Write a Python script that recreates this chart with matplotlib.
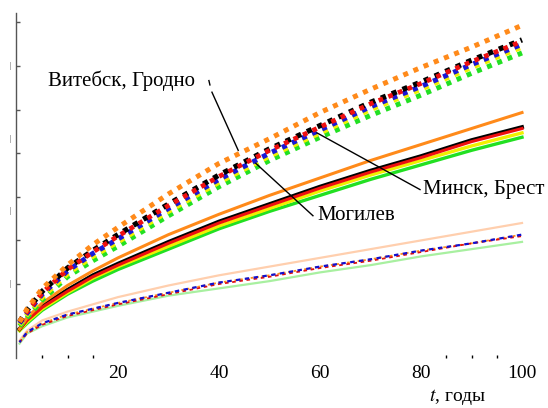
import matplotlib
matplotlib.use("Agg")
import matplotlib.pyplot as plt
from matplotlib.ticker import FixedLocator, NullFormatter

plt.rcParams['font.family'] = ['Liberation Serif', 'DejaVu Serif']
plt.rcParams['mathtext.fontset'] = 'stix'

# time, years
t = [0.5, 2, 5, 10, 15, 20, 30, 40, 50, 60, 70, 80, 90, 100]

# upper (dotted) group
dot_orange = [0.74, 0.83, 0.97, 1.13, 1.27, 1.39, 1.62, 1.83, 2.00, 2.18, 2.34, 2.49, 2.63, 2.78]
dot_red    = [0.74, 0.81, 0.94, 1.10, 1.22, 1.33, 1.54, 1.74, 1.92, 2.08, 2.24, 2.38, 2.53, 2.67]
dot_black  = [0.74, 0.82, 0.95, 1.11, 1.23, 1.34, 1.55, 1.75, 1.93, 2.09, 2.25, 2.39, 2.54, 2.68]
dot_blue   = [0.73, 0.80, 0.93, 1.09, 1.21, 1.31, 1.52, 1.72, 1.90, 2.06, 2.22, 2.36, 2.51, 2.65]
dot_yellow = [0.72, 0.79, 0.91, 1.07, 1.19, 1.29, 1.50, 1.70, 1.88, 2.04, 2.20, 2.34, 2.49, 2.63]
dot_green  = [0.71, 0.77, 0.89, 1.05, 1.16, 1.26, 1.47, 1.67, 1.85, 2.01, 2.16, 2.30, 2.45, 2.59]

# middle (solid) group
sol_orange = [0.69, 0.77, 0.87, 0.99, 1.09, 1.18, 1.34, 1.48, 1.61, 1.73, 1.85, 1.96, 2.07, 2.18]
sol_black  = [0.69, 0.76, 0.85, 0.96, 1.06, 1.14, 1.29, 1.43, 1.55, 1.67, 1.78, 1.88, 1.99, 2.08]
sol_red    = [0.69, 0.75, 0.84, 0.95, 1.05, 1.13, 1.28, 1.42, 1.54, 1.66, 1.77, 1.87, 1.98, 2.07]
sol_yellow = [0.68, 0.74, 0.83, 0.94, 1.04, 1.12, 1.26, 1.40, 1.52, 1.64, 1.75, 1.85, 1.95, 2.04]
sol_green  = [0.68, 0.73, 0.82, 0.93, 1.02, 1.10, 1.24, 1.38, 1.50, 1.61, 1.72, 1.82, 1.92, 2.01]

# lower (thin) group
low_peach = [0.61, 0.68, 0.75, 0.81, 0.86, 0.91, 0.99, 1.06, 1.12, 1.18, 1.24, 1.30, 1.36, 1.42]
low_blue  = [0.60, 0.67, 0.73, 0.79, 0.83, 0.87, 0.94, 1.01, 1.06, 1.12, 1.17, 1.23, 1.28, 1.34]
low_red   = [0.60, 0.66, 0.72, 0.78, 0.82, 0.86, 0.93, 1.00, 1.05, 1.11, 1.16, 1.22, 1.28, 1.33]
low_green = [0.59, 0.66, 0.71, 0.77, 0.81, 0.85, 0.92, 0.97, 1.02, 1.08, 1.13, 1.19, 1.24, 1.29]

fig = plt.figure(figsize=(5.48, 4.08), dpi=100)
ax = fig.add_axes([16/548, 50/408, 530/548, 345/408])
ax.set_xlim(-0.2, 104.75)
ax.set_ylim(0.491, 2.865)

# lower group
ax.plot(t, low_peach, color='#ffcfae', lw=1.6)
ax.plot(t, low_green, color='#a8f0a0', lw=1.6)
ax.plot(t, low_blue, color='#ff9020', lw=1.3, ls=(0, (1.5, 1.5)))
ax.plot(t, low_red, color='#e01010', lw=1.3, ls=(0, (2, 2)))
ax.plot(t, low_blue, color='#1010d0', lw=1.6, ls=(1, (2, 2)))

# middle group
ax.plot(t, sol_green, color='#22e022', lw=2.4)
ax.plot(t, sol_yellow, color='#f0f000', lw=2.4)
ax.plot(t, sol_black, color='black', lw=2.8)
ax.plot(t, sol_red, color='#ee1010', lw=2.2)
ax.plot(t, sol_orange, color='#ff8a1a', lw=2.2)

# upper group
ds = (0, (1, 1.2))
ax.plot(t, dot_green, color='#22e022', lw=3.6, ls=ds)
ax.plot(t, dot_yellow, color='#f0f000', lw=3.6, ls=ds)
ax.plot(t, dot_blue, color='#1818d8', lw=3.6, ls=ds)
ax.plot(t, dot_black, color='black', lw=3.8, ls=ds)
ax.plot(t, dot_red, color='#ee1010', lw=3.4, ls=ds)
ax.plot(t, dot_orange, color='#ff8a1a', lw=3.6, ls=ds)

# labels with leader lines
fs = 15
ax.text(6.1, 2.40, 'Витебск, Гродно', fontsize=fs, ha='left', va='center')
ax.plot([38.0, 38.2], [2.40, 2.37], color='black', lw=1)
ax.plot([38.6, 43.8], [2.32, 1.92], color='black', lw=1)
ax.text(59.4, 1.47, 'Могилев', fontsize=fs, ha='left', va='center')
ax.plot([47.3, 58.6], [1.83, 1.47], color='black', lw=1)
ax.text(80.4, 1.65, 'Минск, Брест', fontsize=fs, ha='left', va='center')
ax.plot([59.4, 79.8], [2.04, 1.65], color='black', lw=1)

# axes styling
for s in ['top', 'right', 'bottom']:
    ax.spines[s].set_visible(False)
ax.spines['left'].set_color('#555555')
ax.spines['left'].set_linewidth(1.0)

ax.xaxis.set_major_locator(FixedLocator([20, 40, 60, 80, 100]))
ax.xaxis.set_minor_locator(FixedLocator([5, 10, 15, 85, 90, 95, 100]))
ax.tick_params(axis='x', which='major', direction='in', length=0, pad=5, labelsize=14)
ax.tick_params(axis='x', which='minor', direction='in', length=2, width=1, color='black')

yticks = [0.7, 1.0, 1.3, 1.6, 1.9, 2.2, 2.5, 2.8]
ax.yaxis.set_major_locator(FixedLocator(yticks))
ax.yaxis.set_major_formatter(NullFormatter())
ax.tick_params(axis='y', which='major', direction='in', length=3, width=1, color='#555555')
for yv in [1.0, 1.5, 2.0, 2.5]:
    ax.text(-0.011, yv, '|', fontsize=6, ha='center', va='center',
            color='#333333', transform=ax.get_yaxis_transform())

fig.text(458/548, 1 - 397/408, r'$t$, годы', fontsize=14, ha='center', va='center')

fig.savefig('out.png', dpi=100)
